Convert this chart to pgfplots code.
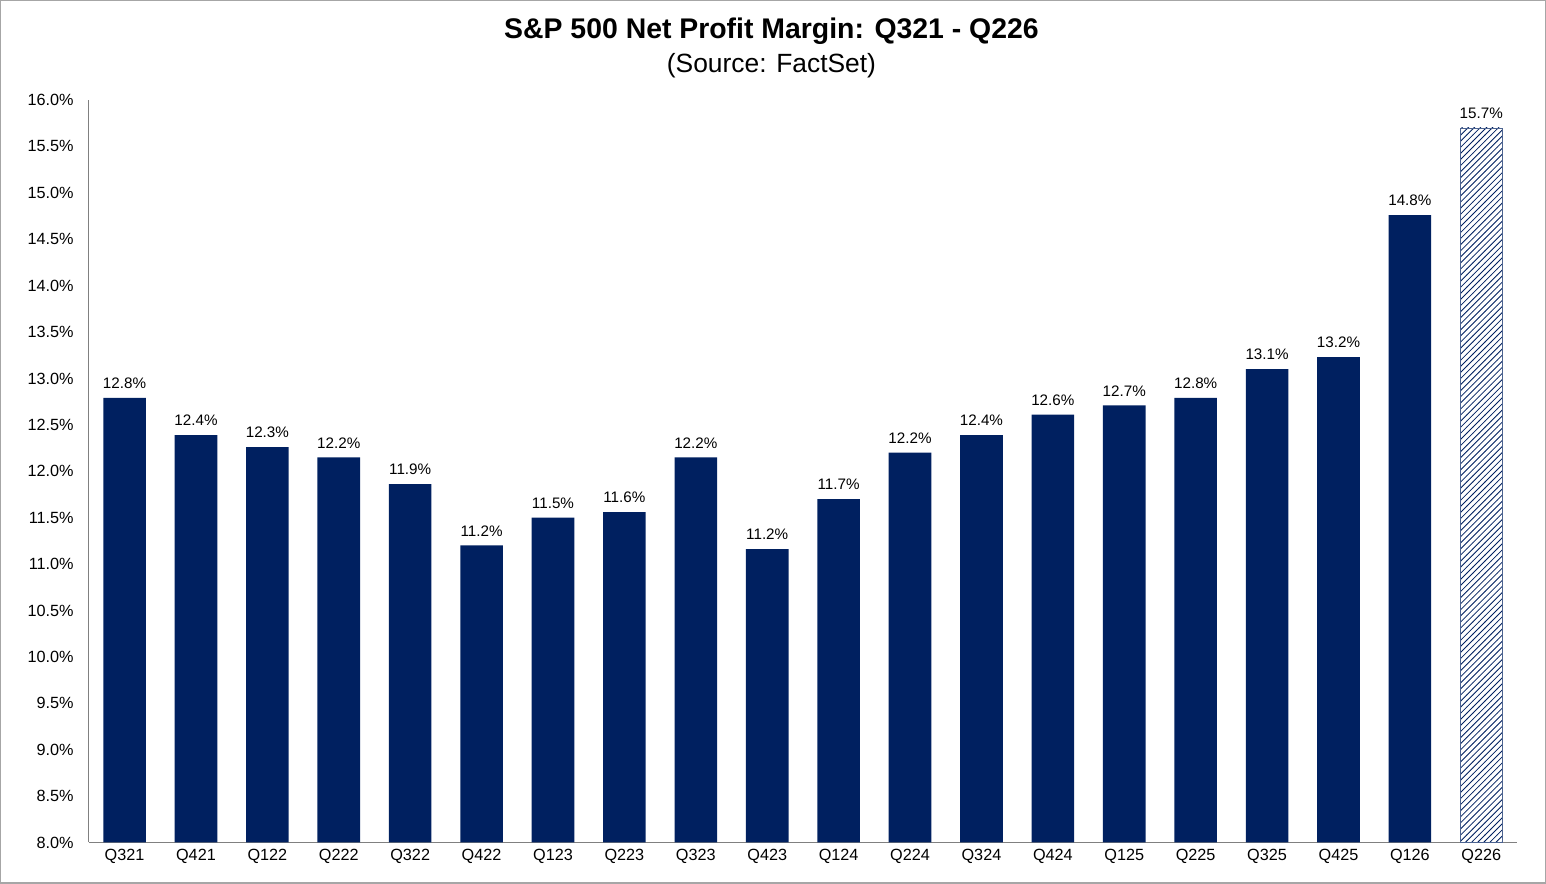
\documentclass[border=0pt]{standalone}
\usepackage{pgfplots}
\pgfplotsset{compat=1.18}
\usepackage{fontspec}
\setmainfont{Liberation Sans}
\usetikzlibrary{patterns}
\definecolor{navy}{RGB}{0,32,96}
\begin{document}
\begin{tikzpicture}[x=1pt,y=1pt]
\draw[gray!70,line width=0.6pt] (5,6) rectangle (766.5,441);
\node[font=\bfseries\fontsize{14}{16}\selectfont] at (385,426) {S\&P 500 Net Profit Margin: Q321 - Q226};
\node[font=\fontsize{13}{15}\selectfont] at (385,409) {(Source: FactSet)};
\begin{axis}[at={(48.5pt,26pt)},anchor=south west,scale only axis,
 width=704pt,height=366pt,
 xmin=-0.5,xmax=19.5,ymin=8,ymax=16,
 axis x line=bottom, axis y line=left,
 axis line style={gray,-},
 ybar, bar width=21pt, bar shift=0pt,
 xtick={0,...,19},
 xticklabels={Q321,Q421,Q122,Q222,Q322,Q422,Q123,Q223,Q323,Q423,Q124,Q224,Q324,Q424,Q125,Q225,Q325,Q425,Q126,Q226},
 ytick={8,8.5,...,16},
 yticklabel={\pgfmathprintnumber[fixed,fixed zerofill,precision=1]{\tick}\%},
 /pgf/number format/assume math mode=true,
 ticklabel style={font=\fontsize{8}{9}\selectfont},
 major tick length=0pt,
 yticklabel style={xshift=-4pt},
 nodes near coords={\pgfmathprintnumber[fixed,fixed zerofill,precision=1,assume math mode=true]{\pgfplotspointmeta}\%},
 every node near coord/.append style={font=\fontsize{7.5}{9}\selectfont,black,yshift=1pt},
]
\addplot[fill=navy,draw=none] coordinates {
(0,12.79)(1,12.39)(2,12.26)(3,12.15)(4,11.86)(5,11.20)(6,11.50)(7,11.56)(8,12.15)(9,11.16)(10,11.70)(11,12.20)(12,12.39)(13,12.61)(14,12.71)(15,12.79)(16,13.10)(17,13.23)(18,14.76)};
\addplot[pattern=north east lines,pattern color=navy,draw=navy!70,line width=0.3pt] coordinates {(19,15.70)};
\end{axis}
\end{tikzpicture}
\end{document}
